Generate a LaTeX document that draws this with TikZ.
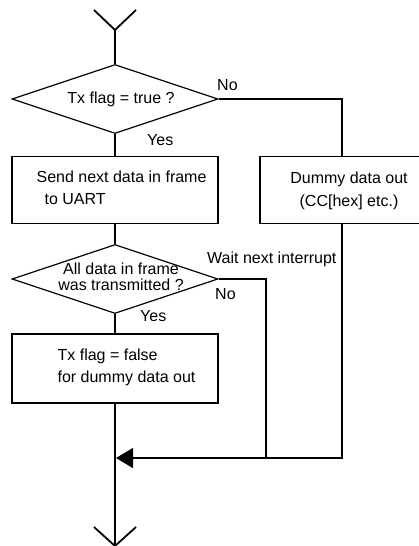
\documentclass[tikz,border=0pt]{standalone}
\usepackage{fontspec}
\setmainfont{Liberation Sans}
\usetikzlibrary{
  arrows.meta,
  positioning,
  shapes.geometric
}

\begin{document}
\begin{tikzpicture}[x=1pt,y=-1pt,
  font=\fontsize{16}{21.5}\selectfont,
  flow/.style={line width=1.8pt},
  link/.style={line width=1.2pt},
  decision/.style={diamond, draw, line width=1.2pt,
    minimum width=206pt, minimum height=69pt, inner sep=0pt},
  process/.style={rectangle, draw, line width=1.2pt,
    minimum width=206pt, minimum height=67pt, inner sep=0pt},
  txt/.style={inner sep=0pt, align=left},
  tag/.style={inner sep=0pt, anchor=base west}
]
\useasboundingbox (0,0) rectangle (419,546);

% entry and exit points
\coordinate (in-l) at (94,10);
\coordinate (in-r) at (136,10);
\coordinate (in) at (115,30);
\coordinate (out-l) at (94,527);
\coordinate (out-r) at (136,527);
\coordinate (out) at (115,546);
\coordinate (join) at (116,458);
\coordinate (wait) at (266,458);

% shapes
\node[decision] (flag-q) at (115,99) {};
\node[process] (send) at (115,190) {};
\node[process, minimum width=164pt] (dummy) at (342,190) {};
\node[decision] (sent-q) at (115,279) {};
\node[process, minimum height=69pt] (clear) at (115,368.5) {};

% texts
\node[txt] (flag-q-text) at (121,99) {Tx flag = true ?};
\node[txt, right=25pt of send.west, yshift=2pt] (send-text)
  {Send next data in frame\\\hspace*{8pt}to UART};
\node[txt, align=center, font=\fontsize{16}{23}\selectfont] (dummy-text) at (349,191)
  {Dummy data out\\(CC[hex] etc.)};
\node[txt, align=center, font=\fontsize{16}{16}\selectfont] (sent-q-text) at (121,277)
  {All data in frame\\was transmitted ?};
\node[txt, right=46pt of clear.west, yshift=1pt] (clear-text)
  {Tx flag = false\\for dummy data out};

% branch labels
\node[tag] (no-1) at (217,90) {No};
\node[tag] (yes-1) at (147,145) {Yes};
\node[tag] (wait-text) at (207,263) {Wait next interrupt};
\node[tag] (no-2) at (215,299) {No};
\node[tag] (yes-2) at (140,321) {Yes};

% main flow
\draw[flow] (in-l) -- (in) -- (in-r);
\draw[flow] (in) -- (flag-q.north);
\draw[flow] (flag-q.south) -- (send.north);
\draw[flow] (send.south) -- (sent-q.north);
\draw[flow] (sent-q.south) -- (clear.north);
\draw[flow] (clear.south) -- (out);
\draw[flow] (out-l) -- (out) -- (out-r);

% side branches
\draw[link] (flag-q.east) -| (dummy.north);
\draw[link] (sent-q.east) -| (wait);
\draw[link, -{Triangle[length=17pt,width=20pt]}] (dummy.south) |- (join);
\end{tikzpicture}
\end{document}
